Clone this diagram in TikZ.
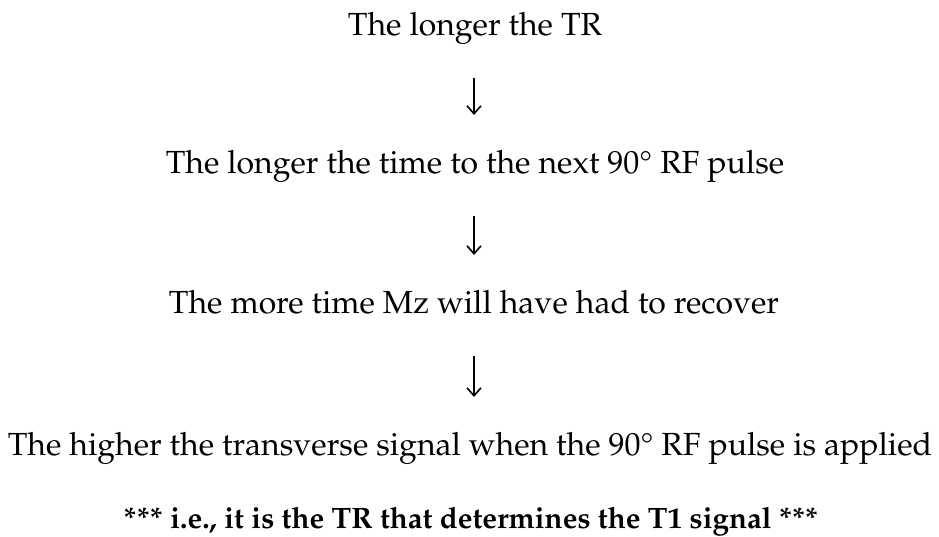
\documentclass[tikz,border=0pt]{standalone}
\usepackage[T1]{fontenc}
\usepackage{textcomp}
\usepackage{mathpazo}
\usetikzlibrary{arrows.meta}
\tikzset{
  txt/.style={anchor=base, inner sep=0pt, font=\fontsize{32}{38}\selectfont},
  btxt/.style={anchor=base, inner sep=0pt, font=\fontsize{29.5}{35}\selectfont\bfseries},
  arr/.style={line width=1.6pt, -{Straight Barb[length=8pt,width=14pt,line width=1.6pt]}, shorten <=43pt, shorten >=58pt}
}
\begin{document}
\begin{tikzpicture}[x=1pt,y=1pt]
\useasboundingbox (0,0) rectangle (939,-536);
\node[txt] (l1) at (475,-35) {The longer the TR};
\node[txt] (l2) at (475,-173) {The longer the time to the next 90\textdegree{} RF pulse};
\node[txt] (l3) at (474,-313) {The more time Mz will have had to recover};
\node[txt] (l4) at (470,-455) {The higher the transverse signal when the 90\textdegree{} RF pulse is applied};
\node[btxt] (l5) at (471,-528) {*** i.e., it is the TR that determines the T1 signal ***};
\coordinate (ax) at (474,0);
\draw[arr] (l1.base -| ax) -- (l2.base -| ax);
\draw[arr] (l2.base -| ax) -- (l3.base -| ax);
\draw[arr] (l3.base -| ax) -- (l4.base -| ax);
\end{tikzpicture}
\end{document}
